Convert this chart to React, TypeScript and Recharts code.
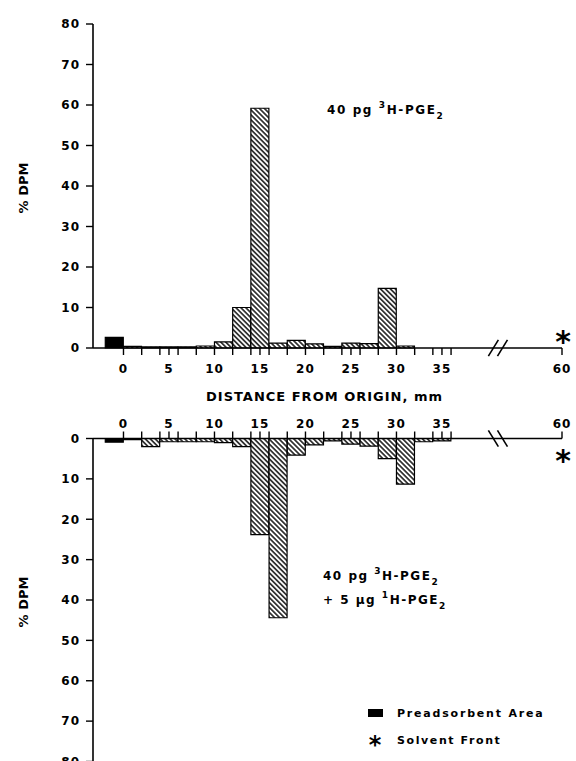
import React from 'react';
import { BarChart, Bar, XAxis, YAxis, Cell, ReferenceDot, ReferenceLine } from 'recharts';

const FONT = '"DejaVu Sans", Verdana, sans-serif';

// 2-mm fractions (bin centres, mm from origin); first bin is the preadsorbent area
const binCenterMm = [-1, 1, 3, 5, 7, 9, 11, 13, 15, 17, 19, 21, 23, 25, 27, 29, 31, 33, 35];
const binKind = ['pre', 'frac', 'frac', 'frac', 'frac', 'frac', 'frac', 'frac', 'frac', 'frac', 'frac', 'frac', 'frac', 'frac', 'frac', 'frac', 'frac', 'frac', 'frac'];
// 40 pg 3H-PGE2
const topPercent = [2.6, 0.4, 0.3, 0.3, 0.3, 0.5, 1.5, 10.0, 59.2, 1.2, 1.9, 1.0, 0.4, 1.2, 1.1, 14.7, 0.5, null, null];
// 40 pg 3H-PGE2 + 5 ug 1H-PGE2
const bottomPercent = [0.9, 0.3, 2.0, 0.8, 0.8, 0.8, 1.0, 2.0, 23.8, 44.4, 4.1, 1.6, 0.6, 1.4, 1.9, 5.0, 11.3, 0.8, 0.6];

const yTicks = [0, 10, 20, 30, 40, 50, 60, 70, 80];
const xTickMm = [0, 2, 4, 5, 6, 8, 10, 12, 14, 15, 16, 18, 20, 22, 24, 25, 26, 28, 30, 32, 34, 35, 36, 60];
const labeledMm = [0, 5, 10, 15, 20, 25, 30, 35, 60];
const solventFrontMm = 60;

// broken axis: beyond 36 mm the scale is compressed
const BREAK_MM = 36;
const BREAK_SCALE = 0.508;
const toAxis = (mm: number) => (mm <= BREAK_MM ? mm : BREAK_MM + (mm - BREAK_MM) * BREAK_SCALE);
const fromAxis = (v: number) => (v <= BREAK_MM ? v : BREAK_MM + (v - BREAK_MM) / BREAK_SCALE);
const X_MIN = -3.35;
const X_MAX = toAxis(solventFrontMm);
const xTicks = xTickMm.map(toAxis);
const fmtX = (v: number) => {
  const mm = Math.round(fromAxis(v));
  return labeledMm.includes(mm) ? String(mm) : '';
};

const topData = binCenterMm.map((mm, i) => ({ pos: mm, value: topPercent[i], kind: binKind[i] }));
const bottomData = binCenterMm.map((mm, i) => ({ pos: mm, value: bottomPercent[i], kind: binKind[i] }));

const tickStyle = { fill: '#000', fontSize: 12, fontWeight: 700, fontFamily: FONT, letterSpacing: 1 };
const axisLine = { stroke: '#000', strokeWidth: 1.6 };
const tickLine = { stroke: '#000', strokeWidth: 1.4 };

const Hatch = ({ id }: { id: string }) => (
  <defs>
    <pattern id={id} patternUnits="userSpaceOnUse" width={3.5} height={3.5} patternTransform="rotate(-45)">
      <rect x={0} y={0} width={3.5} height={3.5} fill="#fff" />
      <line x1={1.75} y1={-1} x2={1.75} y2={4.5} stroke="#000" strokeWidth={1.4} />
    </pattern>
  </defs>
);

const yLabel = (props: any) => {
  const vb = props.viewBox || { x: 0, y: 0, width: 93, height: 324 };
  const x = vb.x + 28;
  const y = vb.y + vb.height / 2 + 2;
  return (
    <text x={x} y={y} transform={`rotate(-90 ${x} ${y})`} textAnchor="middle" fontSize={13} fontWeight={700} fontFamily={FONT} fill="#000">
      % DPM
    </text>
  );
};

const xLabel = (props: any) => {
  const vb = props.viewBox || { x: 93, y: 348, width: 469, height: 62 };
  return (
    <text x={vb.x + vb.width / 2 - 3} y={vb.y + 53} textAnchor="middle" fontSize={13} fontWeight={700} fontFamily={FONT} letterSpacing={1} fill="#000">
      DISTANCE FROM ORIGIN, mm
    </text>
  );
};

const star = (dy: number) => (p: any) => (
  <text x={p.cx + 1} y={p.cy + dy} textAnchor="middle" fontSize={30} fontWeight={700} fontFamily={FONT} fill="#000">*</text>
);

const breakSlashes = (half: number) => [
  <ReferenceLine key="s1" segment={[{ x: 40.1, y: -half }, { x: 41.2, y: half }]} stroke="#000" strokeWidth={1.6} ifOverflow="visible" />,
  <ReferenceLine key="s2" segment={[{ x: 41.1, y: -half }, { x: 42.2, y: half }]} stroke="#000" strokeWidth={1.6} ifOverflow="visible" />,
];

export default function App() {
  return (
    <div style={{ position: 'absolute', left: 0, top: 0, width: 576, height: 761, overflow: 'hidden', background: '#fff' }}>
      <div style={{ position: 'absolute', left: 0, top: 0 }}>
        <BarChart width={576} height={410} data={topData} margin={{ top: 24, right: 14, bottom: 0, left: 0 }} barCategoryGap={0} barGap={0}>
          <Hatch id="hatchTop" />
          <XAxis type="number" dataKey="pos" domain={[X_MIN, X_MAX]} allowDataOverflow ticks={xTicks} interval={0} tickFormatter={fmtX}
            height={62} tickSize={7} tickMargin={9} axisLine={axisLine} tickLine={tickLine} tick={tickStyle} label={{ content: xLabel }} />
          <YAxis type="number" domain={[0, 80]} ticks={yTicks} interval={0} width={93} tickSize={7} tickMargin={6}
            axisLine={axisLine} tickLine={tickLine} tick={tickStyle} label={{ content: yLabel }} />
          <Bar dataKey="value" isAnimationActive={false} stroke="#000" strokeWidth={1.2}>
            {topData.map((d, i) => (
              <Cell key={i} fill={d.kind === 'pre' ? '#000' : 'url(#hatchTop)'} />
            ))}
          </Bar>
          {breakSlashes(2.0)}
          <ReferenceDot x={X_MAX} y={0} r={0} ifOverflow="visible" shape={star(4)} />
        </BarChart>
      </div>
      <div style={{ position: 'absolute', left: 0, top: 400 }}>
        <BarChart width={576} height={370} data={bottomData} margin={{ top: 0, right: 14, bottom: 8.5, left: 0 }} barCategoryGap={0} barGap={0}>
          <Hatch id="hatchBottom" />
          <XAxis type="number" dataKey="pos" orientation="top" domain={[X_MIN, X_MAX]} allowDataOverflow ticks={xTicks} interval={0} tickFormatter={fmtX}
            height={38.5} tickSize={7} tickMargin={4} axisLine={axisLine} tickLine={tickLine} tick={tickStyle} />
          <YAxis type="number" reversed domain={[0, 80]} ticks={yTicks} interval={0} width={93} tickSize={7} tickMargin={6}
            axisLine={axisLine} tickLine={tickLine} tick={tickStyle} label={{ content: yLabel }} />
          <Bar dataKey="value" isAnimationActive={false} stroke="#000" strokeWidth={1.2}>
            {bottomData.map((d, i) => (
              <Cell key={i} fill={d.kind === 'pre' ? '#000' : 'url(#hatchBottom)'} />
            ))}
          </Bar>
          {breakSlashes(2.0)}
          <ReferenceDot x={X_MAX} y={0} r={0} ifOverflow="visible" shape={star(32)} />
        </BarChart>
      </div>
      <svg width={576} height={761} style={{ position: 'absolute', left: 0, top: 0, pointerEvents: 'none' }}>
        <g fontFamily={FONT} fontWeight={700} fill="#000">
          <text x={327} y={114} fontSize={12} letterSpacing={1.6}>
            40 pg <tspan dy={-6} fontSize={9}>3</tspan><tspan dy={6}>H-PGE</tspan><tspan dy={5} fontSize={9}>2</tspan>
          </text>
          <text x={323} y={579.5} fontSize={12} letterSpacing={1.5}>
            40 pg <tspan dy={-6} fontSize={9}>3</tspan><tspan dy={6}>H-PGE</tspan><tspan dy={5} fontSize={9}>2</tspan>
          </text>
          <text x={323} y={604} fontSize={12} letterSpacing={1.5}>
            + 5 µg <tspan dy={-6} fontSize={9}>1</tspan><tspan dy={6}>H-PGE</tspan><tspan dy={5} fontSize={9}>2</tspan>
          </text>
          <rect x={368} y={709} width={15} height={8} fill="#000" />
          <text x={397} y={717} fontSize={11} letterSpacing={1.8}>Preadsorbent Area</text>
          <text x={375} y={753} fontSize={24} textAnchor="middle">*</text>
          <text x={397} y={744} fontSize={11} letterSpacing={1.6}>Solvent Front</text>
        </g>
      </svg>
    </div>
  );
}
